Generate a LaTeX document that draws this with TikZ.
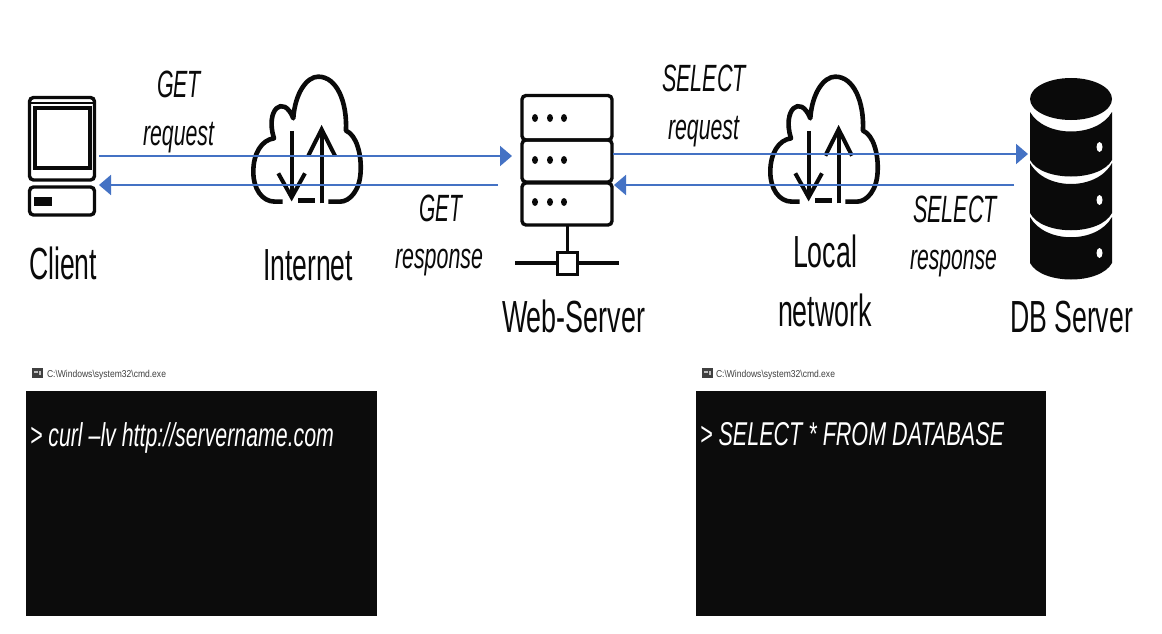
\documentclass[tikz,border=0pt]{standalone}
\usepackage{fontspec}
\usepackage{graphicx}
\setmainfont{Liberation Sans}
\usetikzlibrary{arrows.meta}
\definecolor{linkblue}{HTML}{4472C4}
\definecolor{ink}{HTML}{0A0A0A}
\definecolor{termbg}{HTML}{0C0C0C}
\newsavebox\fitbox
\newcommand\fitw[3]{\sbox\fitbox{\fontsize{#2}{#2}\selectfont #3}\pgfmathsetmacro\fitr{#1/\the\wd\fitbox}\scalebox{\fitr}[1]{\usebox\fitbox}}
% name, left, right, baseline, size, text
\newcommand\lab[7][ink]{\pgfmathsetmacro\labw{#4-#3}\node[lbl,text=#1] (#2) at (#3,#5) {\fitw{\labw}{#6}{#7}};}
\tikzset{
  lbl/.style={anchor=base west,inner sep=0pt,outer sep=0pt},
  icon/.style={draw=ink,line width=3.4pt,rounded corners=4pt},
  iconthin/.style={draw=ink,line width=3.4pt},
  link/.style={draw=linkblue,line width=2pt,-{Triangle[length=12pt,width=20pt]}},
  term/.style={fill=termbg,draw=none},
  pics/cloudicon/.style={code={
    \begin{scope}[x=0.3333pt,y=-0.3333pt]
      \draw[draw=ink,line width=4.6pt,line cap=butt,line join=round]
        (848,425) -- (825,425) .. controls (785,425) and (760,385) .. (760,335)
        .. controls (760,280) and (785,240) .. (822,235)
        .. controls (795,150) and (850,100) .. (880,175)
        .. controls (885,100) and (920,50) .. (955,50)
        .. controls (1010,50) and (1042,125) .. (1038,212)
        .. controls (1070,225) and (1085,285) .. (1082,335)
        .. controls (1080,390) and (1050,425) .. (1020,425) -- (985,425);
      \draw[draw=ink,line width=5pt] (895,422) -- (945,422);
      \draw[draw=ink,line width=4pt] (875,213) -- (875,410);
      \draw[draw=ink,line width=4pt,line join=miter] (835,340) -- (875,412) -- (915,340);
      \draw[draw=ink,line width=4pt] (965,430) -- (965,210);
      \draw[draw=ink,line width=4pt,line join=miter] (925,287) -- (965,208) -- (1005,287);
    \end{scope}
  }}
}
\begin{document}
\begin{tikzpicture}[x=1pt,y=-1pt]
\useasboundingbox[fill=white] (0,0) rectangle (1162,634);

% Client icon
\draw[icon] (29.5,97.5) rectangle (94.5,180);
\draw[draw=ink,line width=1.5pt] (31,103) -- (93,103);
\draw[iconthin] (35,108) rectangle (90,168);
\draw[icon] (29.5,187) rectangle (94.5,215);
\fill[ink] (34,197) rectangle (52,206);

% Clouds
\pic at (0,60) {cloudicon};
\pic at (517,60) {cloudicon};

% Web server icon
\draw[icon] (522,95.5) rectangle (612,140);
\draw[icon] (522,140) rectangle (612,182);
\draw[icon] (522,183) rectangle (612,225);
\foreach \yy in {118,160,202}\foreach \xx in {535,550,564}{\fill[ink] (\xx,\yy) ellipse (3pt and 4pt);}
\draw[draw=ink,line width=3pt] (567,225) -- (567,253);
\draw[draw=ink,line width=3.5pt] (515,263) -- (557,263) (578,263) -- (619,263);
\draw[draw=ink,line width=3pt,fill=white] (557.5,252.5) rectangle (577.5,274);

% DB icon
\fill[ink] (1071,99) ellipse (41pt and 21pt);
\fill[ink] (1030,112) .. controls (1045,138) and (1097,138) .. (1112,112) -- (1112,160)
  .. controls (1100,182) and (1042,182) .. (1030,160) -- cycle;
\fill[ink] (1030,163) .. controls (1045,191) and (1097,191) .. (1112,163) -- (1112,213)
  .. controls (1100,236) and (1042,236) .. (1030,213) -- cycle;
\fill[ink] (1030,217) .. controls (1045,244) and (1097,244) .. (1112,217) -- (1112,263)
  .. controls (1100,285) and (1042,285) .. (1030,263) -- cycle;
\foreach \yy in {147,200,253}{\fill[white] (1099.5,\yy) ellipse (3pt and 5pt);}

% Connector ends
\coordinate (clientUp) at (99,156);
\coordinate (clientDown) at (99,185);
\coordinate (webInUp) at (512,156);
\coordinate (webInDown) at (498,185);
\coordinate (webOutUp) at (613,154);
\coordinate (webOutDown) at (614,185);
\coordinate (dbUp) at (1028,154);
\coordinate (dbDown) at (1014,185);
\draw[link] (clientUp) -- (webInUp);
\draw[link] (webInDown) -- (clientDown);
\draw[link] (webOutUp) -- (dbUp);
\draw[link] (dbDown) -- (webOutDown);

% Labels
\lab{clientL}{29}{97}{279}{45}{Client}
\lab{internetL}{263}{353}{280}{45}{Internet}
\lab{webL}{502}{645}{332}{45}{Web-Server}
\lab{localL}{793}{857}{267}{45}{Local}
\lab{networkL}{778}{872}{326}{45}{network}
\lab{dbL}{1010}{1133}{332}{45}{DB Server}
\lab{getReqA}{157}{201}{97}{38}{\itshape GET}
\lab{getReqB}{143}{214}{145}{36}{\itshape request}
\lab{getRespA}{419}{462}{221}{38}{\itshape GET}
\lab{getRespB}{395}{483}{268}{36}{\itshape response}
\lab{selReqA}{662}{746}{92}{38}{\itshape SELECT}
\lab{selReqB}{668}{739}{139}{36}{\itshape request}
\lab{selRespA}{913}{997}{222}{38}{\itshape SELECT}
\lab{selRespB}{910}{997}{269}{36}{\itshape response}

% Terminals
\fill[term] (26,391) rectangle (377,616);
\fill[term] (696,391) rectangle (1046,616);
\foreach \ox in {32,702}{
  \fill[black!75] (\ox,368) rectangle ++(11,10);
  \fill[white!75!black] (\ox+2,371) rectangle ++(4,2);
  \fill[white!75!black] (\ox+7,371) rectangle ++(2,4);
}
\lab[black!75]{titleA}{47}{166}{377}{10}{C:\textbackslash Windows\textbackslash system32\textbackslash cmd.exe}
\lab[black!75]{titleB}{716}{835}{377}{10}{C:\textbackslash Windows\textbackslash system32\textbackslash cmd.exe}
\lab[white]{cmdA}{30}{334}{446}{33}{\itshape > curl –lv http://servername.com}
\lab[white]{cmdB}{700}{1004}{445}{33}{\itshape > SELECT * FROM DATABASE}
\end{tikzpicture}
\end{document}
